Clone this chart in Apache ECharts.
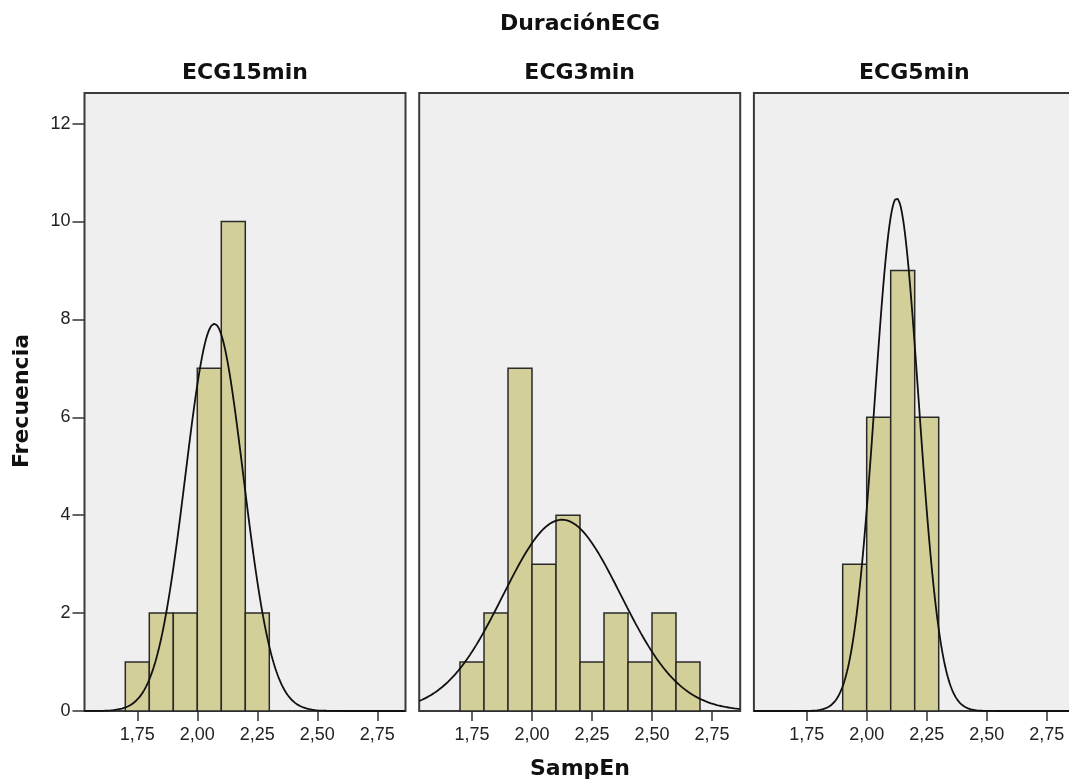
<!DOCTYPE html>
<html>
<head>
<meta charset="utf-8">
<script src="https://cdn.jsdelivr.net/npm/echarts@6/dist/echarts.min.js"></script>
<style>
  html, body { margin: 0; padding: 0; background: #fff; }
  #chart { width: 1069px; height: 784px; }
</style>
</head>
<body>
<div id="chart"></div>
<script>
// histogram bins (SampEn), shared by the three panels
var panelNames = ['ECG15min', 'ECG3min', 'ECG5min'];
var binStarts = [1.7, 1.8, 1.9, 2.0, 2.1, 2.2, 2.3, 2.4, 2.5, 2.6];
var binWidth = 0.1;
var counts15 = [1, 2, 2, 7, 10, 2, 0, 0, 0, 0];
var counts3 = [1, 2, 7, 3, 4, 1, 2, 1, 2, 1];
var counts5 = [0, 0, 3, 6, 9, 6, 0, 0, 0, 0];
// normal curve parameters per panel
var curveMeans = [2.071, 2.125, 2.125];
var curveSds = [0.121, 0.245, 0.0914];
var sampleSizes = [24, 24, 24];
// axis ticks
var xTickValues = [1.75, 2.00, 2.25, 2.50, 2.75];
var yTickValues = [0, 2, 4, 6, 8, 10, 12];

var allCounts = [counts15, counts3, counts5];
var xMin = 1.53, xMax = 2.8675, yMax = 12.625;
var pxPerX = 240;
var panelLeft = [84.5, 419.2, 753.9], panelWidth = 321;
var gridTop = 93, gridBottom = 73;
var yTop = 711 - 12 * 48.95;
var boldFont = {fontFamily: 'DejaVu Sans', fontWeight: 'bold', fontSize: 22, fill: '#111',
  align: 'center', verticalAlign: 'middle'};

var chart = echarts.init(document.getElementById('chart'));

var grids = [], xAxes = [], yAxes = [], series = [], graphics = [];

for (var i = 0; i < 3; i++) {
  // panel box
  grids.push({
    left: panelLeft[i], width: panelWidth, top: gridTop, bottom: gridBottom,
    outerBoundsMode: 'none', containLabel: false,
    show: true, backgroundColor: '#efefef', borderColor: '#3a3a3a', borderWidth: 2
  });
  xAxes.push({gridIndex: i, type: 'value', min: xMin, max: xMax, show: false});
  yAxes.push({gridIndex: i, type: 'value', min: 0, max: yMax, show: false});

  var bars = [];
  allCounts[i].forEach(function (c, k) {
    if (c > 0) bars.push([binStarts[k], binStarts[k] + binWidth, c]);
  });
  series.push({
    type: 'custom', xAxisIndex: i, yAxisIndex: i, data: bars, z: 2,
    renderItem: function (params, api) {
      var p0 = api.coord([api.value(0), api.value(2)]);
      var p1 = api.coord([api.value(1), 0]);
      return {
        type: 'rect',
        shape: {x: p0[0], y: p0[1], width: p1[0] - p0[0], height: p1[1] - p0[1]},
        style: {fill: '#d3cf98', stroke: '#2a2a2a', lineWidth: 1.5}
      };
    }
  });

  var pts = [];
  var m = curveMeans[i], s = curveSds[i], n = sampleSizes[i];
  for (var x = xMin; x <= xMax + 1e-9; x += 0.004) {
    var z = (x - m) / s;
    pts.push([x, n * binWidth * Math.exp(-0.5 * z * z) / (s * Math.sqrt(2 * Math.PI))]);
  }
  series.push({
    type: 'line', xAxisIndex: i, yAxisIndex: i, data: pts, z: 3,
    showSymbol: false, silent: true, smooth: false,
    lineStyle: {color: '#111', width: 1.8}
  });

  graphics.push({
    type: 'text', x: panelLeft[i] + panelWidth / 2, y: 73.5,
    style: Object.assign({text: panelNames[i]}, boldFont)
  });
}

// x tick-label axes
for (var j = 0; j < 3; j++) {
  var lx = panelLeft[j] + (xTickValues[0] - xMin) * pxPerX;
  grids.push({left: lx, width: (xTickValues[xTickValues.length - 1] - xTickValues[0]) * pxPerX,
    top: gridTop, bottom: gridBottom, outerBoundsMode: 'none', containLabel: false});
  xAxes.push({
    gridIndex: 3 + j, type: 'value',
    min: xTickValues[0], max: xTickValues[xTickValues.length - 1], interval: 0.25,
    axisLine: {show: true, lineStyle: {color: 'rgba(0,0,0,0)'}},
    splitLine: {show: false},
    axisTick: {show: true, length: 10, lineStyle: {color: '#333', width: 1.5}},
    axisLabel: {
      fontSize: 18, fontFamily: 'Liberation Sans', color: '#222', margin: 15,
      formatter: function (v) { return v.toFixed(2).replace('.', ','); }
    }
  });
  yAxes.push({gridIndex: 3 + j, type: 'value', show: false});
}

// y tick-label axis (first panel only)
grids.push({left: panelLeft[0], width: panelWidth, top: yTop, bottom: gridBottom,
  outerBoundsMode: 'none', containLabel: false});
xAxes.push({gridIndex: 6, type: 'value', show: false});
yAxes.push({
  gridIndex: 6, type: 'value', min: yTickValues[0], max: yTickValues[yTickValues.length - 1], interval: 2,
  axisLine: {show: true, lineStyle: {color: 'rgba(0,0,0,0)'}},
  splitLine: {show: false},
  axisTick: {show: true, length: 12, lineStyle: {color: '#333', width: 1.5}},
  axisLabel: {fontSize: 18, fontFamily: 'Liberation Sans', color: '#222', margin: 14}
});

graphics.push({type: 'text', x: 580, y: 24.5, style: Object.assign({text: 'DuraciónECG'}, boldFont)});
graphics.push({type: 'text', x: 580, y: 769, style: Object.assign({text: 'SampEn'}, boldFont)});
graphics.push({
  type: 'text', x: 22, y: 401, rotation: Math.PI / 2,
  style: Object.assign({text: 'Frecuencia'}, boldFont)
});

chart.setOption({
  animation: false,
  backgroundColor: '#ffffff',
  grid: grids,
  xAxis: xAxes,
  yAxis: yAxes,
  series: series,
  graphic: graphics
});
</script>
</body>
</html>
